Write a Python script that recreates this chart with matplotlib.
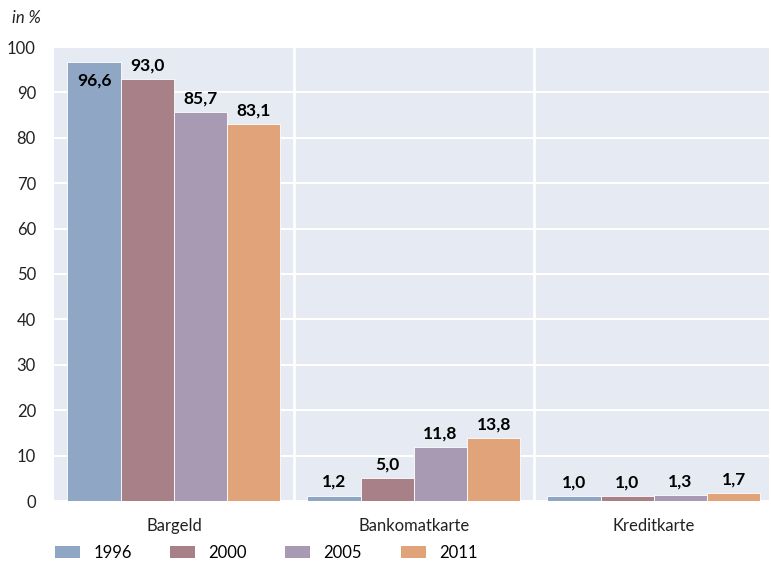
import numpy as np
import matplotlib
matplotlib.use("Agg")
import matplotlib.pyplot as plt
from matplotlib.patches import Patch

# Daten
kategorien = ["Bargeld", "Bankomatkarte", "Kreditkarte"]
jahre = ["1996", "2000", "2005", "2011"]
werte_1996 = [96.6, 1.2, 1.0]
werte_2000 = [93.0, 5.0, 1.0]
werte_2005 = [85.7, 11.8, 1.3]
werte_2011 = [83.1, 13.8, 1.7]
serien = [werte_1996, werte_2000, werte_2005, werte_2011]
farben = ["#8fa7c5", "#a88087", "#a89ab3", "#e1a379"]

plt.rcParams["font.family"] = ["Lato", "DejaVu Sans"]

fig = plt.figure(figsize=(7.71, 5.62), dpi=100)
ax = fig.add_axes([54 / 771, 61 / 562, 715 / 771, 454 / 562])
ax.set_facecolor("#e6eaf2")

x = np.arange(len(kategorien))
breite = 0.222
for i, (werte, farbe) in enumerate(zip(serien, farben)):
    pos = x + (i - 1.5) * breite
    ax.bar(pos, werte, breite, color=farbe, edgecolor="white", linewidth=0.6, zorder=3)
    for p, w in zip(pos, werte):
        txt = f"{w:.1f}".replace(".", ",")
        if w > 95:
            ax.annotate(txt, (p, w), xytext=(0, -7), textcoords="offset points",
                        ha="center", va="top", fontsize=12.5, fontweight="bold", zorder=4)
        else:
            ax.annotate(txt, (p, w), xytext=(0, 4), textcoords="offset points",
                        ha="center", va="bottom", fontsize=12.5, fontweight="bold", zorder=4)

ax.set_xlim(-0.5, 2.48)
ax.set_ylim(0, 100)
ax.set_yticks(np.arange(0, 101, 10))
ax.set_xticks(x)
ax.set_xticklabels(kategorien)
ax.tick_params(axis="both", length=0, labelsize=12, colors="#222222")
ax.tick_params(axis="x", pad=12)
ax.tick_params(axis="y", pad=13)
ax.yaxis.grid(True, color="white", linewidth=1.5, zorder=1)
for sep in [0.5, 1.5]:
    ax.axvline(sep, color="white", linewidth=2, zorder=1)
for s in ax.spines.values():
    s.set_visible(False)

fig.text(12 / 771, 1 - 18 / 562, "in %", fontsize=12, fontstyle="italic",
         color="#222222", va="center")

handles = [Patch(facecolor=f, edgecolor="none") for f in farben]
fig.legend(handles, jahre, loc="center left", bbox_to_anchor=(40 / 771, 1 - 553 / 562),
           ncol=4, frameon=False, fontsize=12, handlelength=1.5, handleheight=0.7,
           columnspacing=2.3, handletextpad=0.8)

fig.savefig("out.png", dpi=100)
